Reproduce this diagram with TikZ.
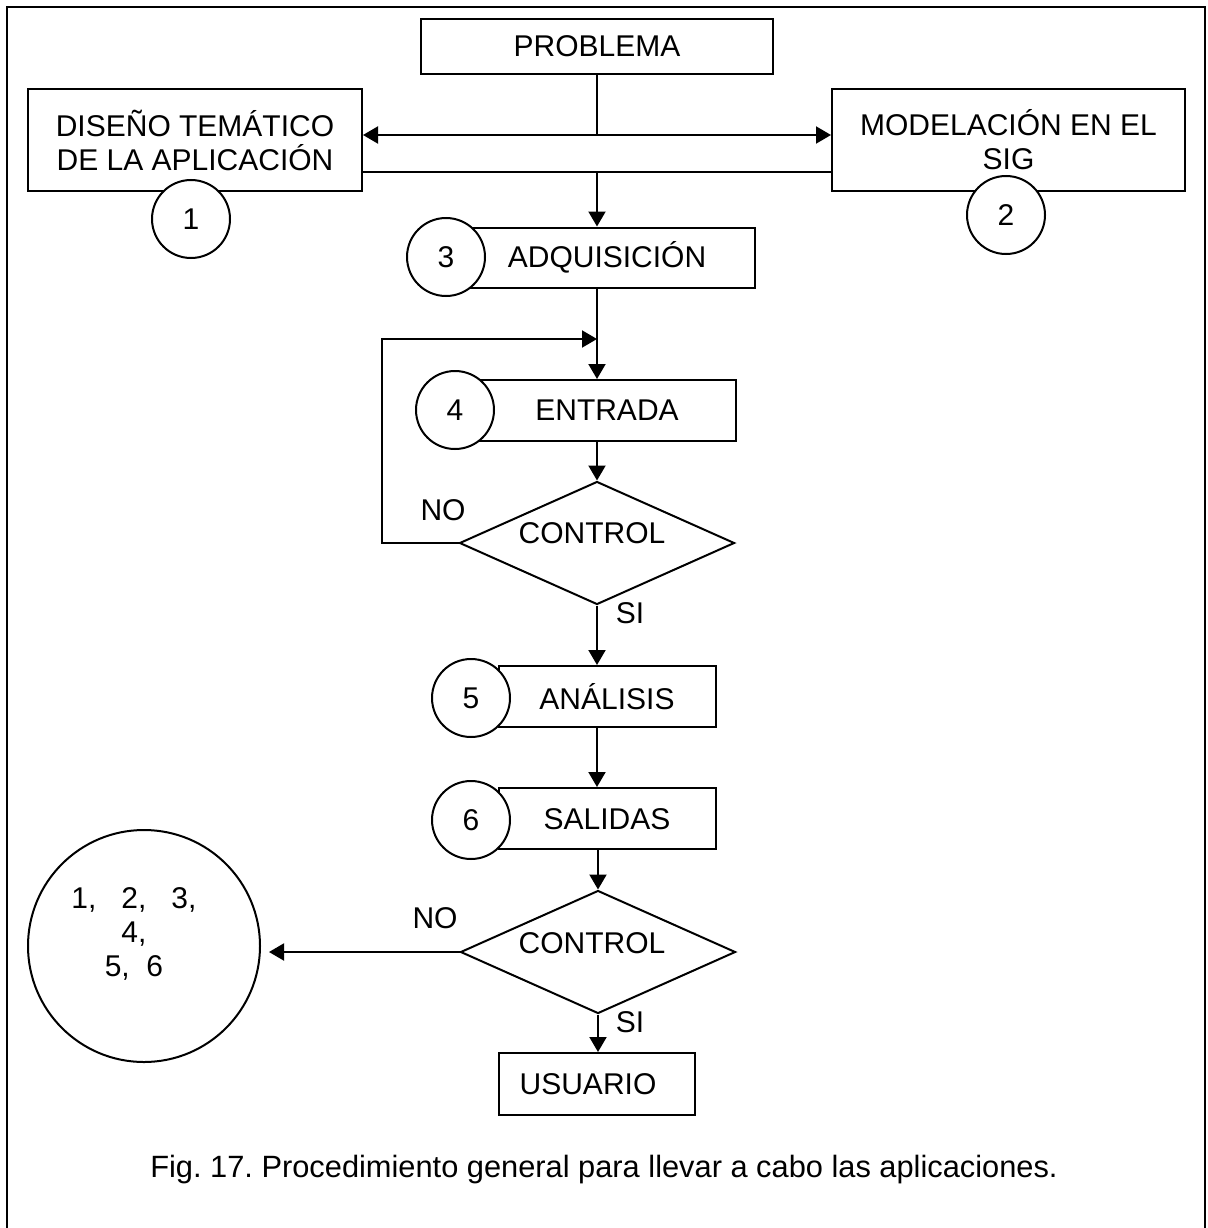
\documentclass[tikz,border=0pt]{standalone}
\usepackage{fontspec}
\setmainfont{Liberation Sans}
\usetikzlibrary{arrows.meta,shapes.geometric}
\frenchspacing
\begin{document}
\begin{tikzpicture}[x=1pt,y=-1pt,
  font=\fontsize{30pt}{34pt}\selectfont,
  line width=2pt,
  box/.style={draw,rectangle,inner sep=0pt,align=center},
  num/.style={draw,circle,fill=white,inner sep=0pt,minimum size=78pt},
  decide/.style={draw,diamond,inner sep=0pt,minimum width=275pt,minimum height=123pt,shape aspect=2.25},
  txt/.style={inner sep=0pt,align=center},
  arr/.style={-{Triangle[length=15pt,width=17pt]}},
  darr/.style={{Triangle[length=15pt,width=17pt]}-{Triangle[length=15pt,width=17pt]}}]
\useasboundingbox (0,0) rectangle (1207,1228);
% frame
\draw[line width=2.8pt] (7,1240) -- (7,7) -- (1205,7) -- (1205,1240);

% boxes
\node[box,minimum width=352pt,minimum height=55pt] (prob) at (597,46.5) {PROBLEMA};
\node[box,minimum width=334pt,minimum height=102pt] (dis) at (195,140) {DISEÑO TEMÁTICO\\DE LA APLICACIÓN};
\node[box,minimum width=353pt,minimum height=102pt] (mod) at (1008.5,140) {MODELACIÓN EN EL\\SIG};
\node[box,minimum width=284pt,minimum height=60pt] (adq) at (613,257.5) {};
\node[box,minimum width=256pt,minimum height=61pt] (ent) at (608,410.5) {};
\node[box,minimum width=217pt,minimum height=61pt] (ana) at (607.5,696.5) {};
\node[box,minimum width=217pt,minimum height=61pt] (sal) at (607.5,818.5) {};
\node[box,minimum width=196pt,minimum height=62pt] (usr) at (597,1084) {};

\node[txt] (tadq) at (607,257) {ADQUISICIÓN};
\node[txt] (tent) at (607,410) {ENTRADA};
\node[txt] (tana) at (607,697) {ANÁLISIS};
\node[txt] (tsal) at (607,819) {SALIDAS};
\node[txt] (tusr) at (588,1084) {USUARIO};

% numbered circles
\node[num] (n1) at (191,219) {1};
\node[num] (n2) at (1006,215) {2};
\node[num] (n3) at (446,257) {3};
\node[num] (n4) at (455,410) {4};
\node[num] (n5) at (471,698) {5};
\node[num] (n6) at (471,820) {6};

% decisions
\node[decide] (c1) at (597,543) {};
\node[txt] (tc1) at (592,533) {CONTROL};
\node[decide] (c2) at (598,952) {};
\node[txt] (tc2) at (592,943) {CONTROL};

% big circle
\node[draw,circle,inner sep=0pt,minimum size=232pt] (big) at (144,946) {};
\node[txt] (tbig) at (134,934) {1,\ \ \ 2,\ \ \ 3,\\4,\\5,\ \ 6};

% labels
\node[txt] (no1) at (443,510) {NO};
\node[txt] (si1) at (630,613) {SI};
\node[txt] (no2) at (435,918) {NO};
\node[txt] (si2) at (630,1022) {SI};

% connectors
\coordinate (j1) at (597,135);
\coordinate (j2) at (597,172);
\coordinate (j3) at (597,339);
\coordinate (fb) at (382,339);
\draw (prob.south) -- (j1);
\draw[darr] (j1 -| dis.east) -- (j1 -| mod.west);
\draw (j2 -| dis.east) -- (j2 -| mod.west);
\draw[arr] (j2) -- (j2 |- adq.north);
\draw (j2 |- adq.south) -- (j3);
\draw[arr] (j3) -- (j3 |- ent.north);
\draw[arr] (c1.west) -| (fb) -- (j3);
\draw[arr] (c1.north |- ent.south) -- (c1.north);
\draw[arr] (c1.south) -- (c1.south |- ana.north);
\draw[arr] (c1.south |- ana.south) -- (c1.south |- sal.north);
\draw[arr] (c2.north |- sal.south) -- (c2.north);
\draw[arr,shorten >=8pt] (c2.west) -- (c2.west -| big.east);
\draw[arr] (c2.south) -- (c2.south |- usr.north);

% caption
\node[txt,font=\fontsize{30.8pt}{34pt}\selectfont] (cap) at (604,1170) {Fig. 17. Procedimiento general para llevar a cabo las aplicaciones.};
\end{tikzpicture}
\end{document}
